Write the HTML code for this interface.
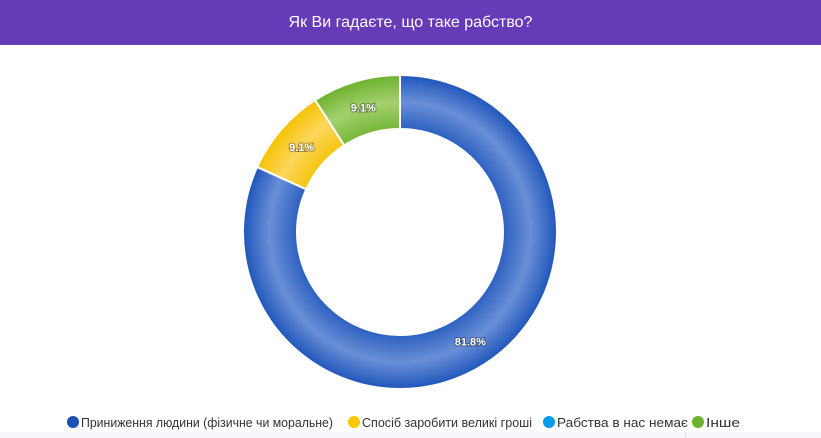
<!DOCTYPE html>
<html><head><meta charset="utf-8"><style>
body{margin:0;width:821px;height:438px;overflow:hidden;background:#fff;font-family:"Liberation Sans",sans-serif}
#hdr{position:absolute;left:0;top:0;width:821px;height:45px;background:#673ab7;color:#fff;font-size:16px;text-align:center;line-height:45px}
#foot{position:absolute;left:0;top:432px;width:821px;height:6px;background:#f6f8fb}
#div{position:absolute;left:685px;top:432px;width:1px;height:6px;background:#e0e0e0}
</style></head><body>
<div id="hdr">Як Ви гадаєте, що таке рабство?</div>
<svg id="chart" width="821" height="438" style="position:absolute;left:0;top:0">
<defs>
<radialGradient id="g0" gradientUnits="userSpaceOnUse" cx="400" cy="232" r="157"><stop offset="0.62" stop-color="#1f56bb"/><stop offset="0.83" stop-color="#6a8fd7"/><stop offset="1" stop-color="#1f56bb"/></radialGradient>
<radialGradient id="g1" gradientUnits="userSpaceOnUse" cx="400" cy="232" r="157"><stop offset="0.62" stop-color="#f5c200"/><stop offset="0.83" stop-color="#fcd65c"/><stop offset="1" stop-color="#f5c200"/></radialGradient>
<radialGradient id="g2" gradientUnits="userSpaceOnUse" cx="400" cy="232" r="157"><stop offset="0.62" stop-color="#039be5"/><stop offset="0.83" stop-color="#4fc3f7"/><stop offset="1" stop-color="#039be5"/></radialGradient>
<radialGradient id="g3" gradientUnits="userSpaceOnUse" cx="400" cy="232" r="157"><stop offset="0.62" stop-color="#6cb22e"/><stop offset="0.83" stop-color="#a4d06f"/><stop offset="1" stop-color="#6cb22e"/></radialGradient>
</defs>
<g id="slices"></g>
<g id="legend"></g>
</svg>
<div id="foot"></div>
<div id="div"></div>
<script>
const categories=["Приниження людини (фізичне чи моральне)","Спосіб заробити великі гроші","Рабства в нас немає","Інше"];
const values=[81.8,9.1,0,9.1];
const labels=["81.8%","9.1%","","9.1%"];
const dots=["#1a4fb5","#f9c800","#039be5","#6cb22e"];
const cx=400,cy=232,R=157,r=103;
const ns="http://www.w3.org/2000/svg";
const total=values.reduce((a,b)=>a+b,0);
const sg=document.getElementById('slices');
function pt(a,rad){return [cx+rad*Math.sin(a),cy-rad*Math.cos(a)];}
let a0=0;
values.forEach((v,i)=>{
  const a1=a0+v/total*2*Math.PI;
  if(v>0){
    const [x0,y0]=pt(a0,R),[x1,y1]=pt(a1,R),[x2,y2]=pt(a1,r),[x3,y3]=pt(a0,r);
    const big=(a1-a0)>Math.PI?1:0;
    const p=document.createElementNS(ns,'path');
    p.setAttribute('d',`M${x0},${y0}A${R},${R} 0 ${big} 1 ${x1},${y1}L${x2},${y2}A${r},${r} 0 ${big} 0 ${x3},${y3}Z`);
    p.setAttribute('fill',`url(#g${i})`);p.setAttribute('stroke','#fff');p.setAttribute('stroke-width','2');
    
    
    sg.appendChild(p);
    const am=(a0+a1)/2;const [lx,ly]=pt(am,(R+r)/2);
    const t=document.createElementNS(ns,'text');
    t.setAttribute('x',lx);t.setAttribute('y',ly+4);t.setAttribute('text-anchor','middle');
    t.setAttribute('font-size','11');t.setAttribute('font-weight','bold');t.setAttribute('fill','#fff');
    t.setAttribute('style','paint-order:stroke;stroke:rgba(0,0,0,0.35);stroke-width:2px');
    t.textContent=labels[i];
    
    
    sg.appendChild(t);
  }
  a0=a1;
});
const lg=document.getElementById('legend');
const lx=[73,354,549,698];
categories.forEach((c,i)=>{
  const g=document.createElementNS(ns,'g');
  
  
  const ci=document.createElementNS(ns,'circle');
  ci.setAttribute('cx',lx[i]);ci.setAttribute('cy',422);ci.setAttribute('r',6);ci.setAttribute('fill',dots[i]);
  g.appendChild(ci);
  const t=document.createElementNS(ns,'text');
  t.setAttribute('x',lx[i]+8);t.setAttribute('y',427);t.setAttribute('font-size','13');t.setAttribute('fill','#333');
  t.setAttribute('textLength',[252,170,131,34][i]);t.setAttribute('lengthAdjust','spacingAndGlyphs');
  t.textContent=c;g.appendChild(t);
  lg.appendChild(g);
});
</script>
</body></html>
